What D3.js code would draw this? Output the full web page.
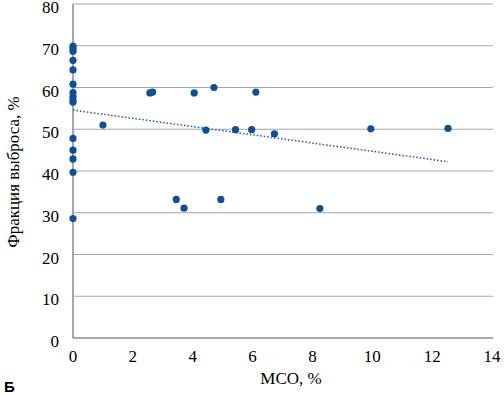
<!DOCTYPE html>
<html>
<head>
<meta charset="utf-8">
<script src="https://cdn.jsdelivr.net/npm/d3@7"></script>
<style>
  body { margin: 0; background: #fff; }
  text { font-family: "Liberation Serif", "DejaVu Serif", serif; }
</style>
</head>
<body>
<div id="chart"></div>
<script>
// МСО, % (x) and фракция выброса, % (y)
var mco = [0, 0, 0, 0, 0, 0, 0, 0, 0, 0, 0, 0, 0, 0, 0,
           1.0, 2.57, 2.66, 4.05, 4.71, 6.11,
           4.44, 5.43, 5.97, 6.73,
           3.45, 3.71, 4.94, 8.25,
           9.95, 12.53];
var ef  = [69.9, 69.3, 68.7, 66.5, 64.2, 60.8, 58.8, 57.8, 57.0, 56.5, 47.8, 45.0, 42.9, 39.7, 28.6,
           51.0, 58.7, 58.9, 58.7, 60.0, 58.9,
           49.8, 49.9, 49.9, 48.9,
           33.2, 31.1, 33.2, 31.0,
           50.1, 50.2];
var xTicks = [0, 2, 4, 6, 8, 10, 12, 14];
var yTicks = [0, 10, 20, 30, 40, 50, 60, 70, 80];

var width = 504, height = 395;
var pLeft = 73, pRight = 492, pTop = 4, pBottom = 338;

var svg = d3.select("#chart").append("svg")
    .attr("width", width)
    .attr("height", height);

var x = d3.scaleLinear().domain([0, 14]).range([pLeft, pRight]);
var y = d3.scaleLinear().domain([0, 80]).range([pBottom, pTop]);

// horizontal gridlines
svg.selectAll(".grid")
  .data(yTicks.slice(1))
  .enter().append("line")
  .attr("x1", pLeft).attr("x2", pRight + 1)
  .attr("y1", function(d) { return y(d); })
  .attr("y2", function(d) { return y(d); })
  .attr("stroke", "#a6a6a6")
  .attr("stroke-width", 1);

// y axis line
svg.append("line")
  .attr("x1", pLeft).attr("x2", pLeft)
  .attr("y1", pTop).attr("y2", pBottom)
  .attr("stroke", "#a6a6a6").attr("stroke-width", 2);

// x axis line
svg.append("line")
  .attr("x1", pLeft).attr("x2", pRight + 1)
  .attr("y1", pBottom).attr("y2", pBottom)
  .attr("stroke", "#595959").attr("stroke-width", 1);

// y tick labels
svg.selectAll(".ylab")
  .data(yTicks)
  .enter().append("text")
  .attr("x", 59)
  .attr("y", function(d) { return y(d) + 9; })
  .attr("text-anchor", "end")
  .attr("font-size", 17)
  .attr("fill", "#000")
  .text(function(d) { return d; });

// x tick labels
svg.selectAll(".xlab")
  .data(xTicks)
  .enter().append("text")
  .attr("x", function(d) { return x(d); })
  .attr("y", 362)
  .attr("text-anchor", "middle")
  .attr("font-size", 17)
  .attr("fill", "#000")
  .text(function(d) { return d; });

// axis titles
svg.append("text")
  .attr("x", 291).attr("y", 384)
  .attr("text-anchor", "middle")
  .attr("font-size", 17)
  .text("МСО, %");

svg.append("text")
  .attr("transform", "translate(19,172) rotate(-90)")
  .attr("text-anchor", "middle")
  .attr("font-size", 17)
  .text("Фракция выброса, %");

svg.append("text")
  .attr("x", 4).attr("y", 392)
  .style("font-family", "'Liberation Sans', Arial, sans-serif")
  .attr("font-weight", "bold")
  .attr("font-size", 15)
  .text("Б");

// linear trend (least squares)
var n = mco.length;
var mx = d3.mean(mco), my = d3.mean(ef);
var sxy = 0, sxx = 0;
for (var i = 0; i < n; i++) {
  sxy += (mco[i] - mx) * (ef[i] - my);
  sxx += (mco[i] - mx) * (mco[i] - mx);
}
var slope = sxy / sxx;
var icpt = my - slope * mx;
var xMax = d3.max(mco);

svg.append("line")
  .attr("x1", x(0)).attr("y1", y(icpt))
  .attr("x2", x(xMax)).attr("y2", y(icpt + slope * xMax))
  .attr("stroke", "#1f5a9e")
  .attr("stroke-width", 1.5)
  .attr("stroke-dasharray", "1.5,2");

// points
svg.selectAll(".dot")
  .data(mco)
  .enter().append("circle")
  .attr("cx", function(d) { return x(d); })
  .attr("cy", function(d, i) { return y(ef[i]); })
  .attr("r", 3.6)
  .attr("fill", "#0e4f96");
</script>
</body>
</html>
